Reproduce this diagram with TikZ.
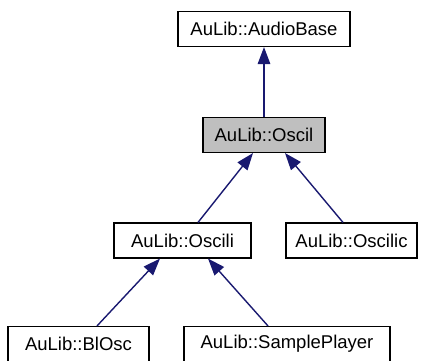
\documentclass[tikz,border=0pt]{standalone}
\usepackage{fontspec}
\setmainfont{Liberation Sans}
\usetikzlibrary{arrows.meta}
\definecolor{edgeblue}{HTML}{191970}
\definecolor{hilite}{HTML}{BFBFBF}
\tikzset{
  cls/.style={draw=black, line width=1.1pt, fill=white, minimum height=35pt, inner sep=0pt, font=\fontsize{18.5pt}{20pt}\selectfont, text=black},
  inh/.style={draw=edgeblue, line width=1.4pt, {Triangle[length=17pt,width=12.5pt,fill=edgeblue]}-}
}
\begin{document}
\begin{tikzpicture}[x=1pt,y=1pt]
\useasboundingbox (0,0) rectangle (428,360);
\node[cls, minimum width=172pt] (base) at (264,331) {AuLib::AudioBase};
\node[cls, minimum width=122pt, fill=hilite] (oscil) at (264,225) {AuLib::Oscil};
\node[cls, minimum width=137pt] (oscili) at (182.5,119.5) {AuLib::Oscili};
\node[cls, minimum width=131pt] (oscilic) at (351.5,119.5) {AuLib::Oscilic};
\node[cls, minimum width=141pt] (blosc) at (78.5,16) {AuLib::BlOsc};
\node[cls, minimum width=206pt] (sp) at (287,16) {AuLib::SamplePlayer};
\draw[inh] (base.south) -- (oscil.north);
\draw[inh] ([xshift=-11pt]oscil.south) -- ([xshift=15.5pt]oscili.north);
\draw[inh] ([xshift=21pt]oscil.south) -- ([xshift=-8.5pt]oscilic.north);
\draw[inh] ([xshift=-22.5pt]oscili.south) -- ([xshift=18.5pt]blosc.north);
\draw[inh] ([xshift=25.5pt]oscili.south) -- ([xshift=-19pt]sp.north);
\end{tikzpicture}
\end{document}
